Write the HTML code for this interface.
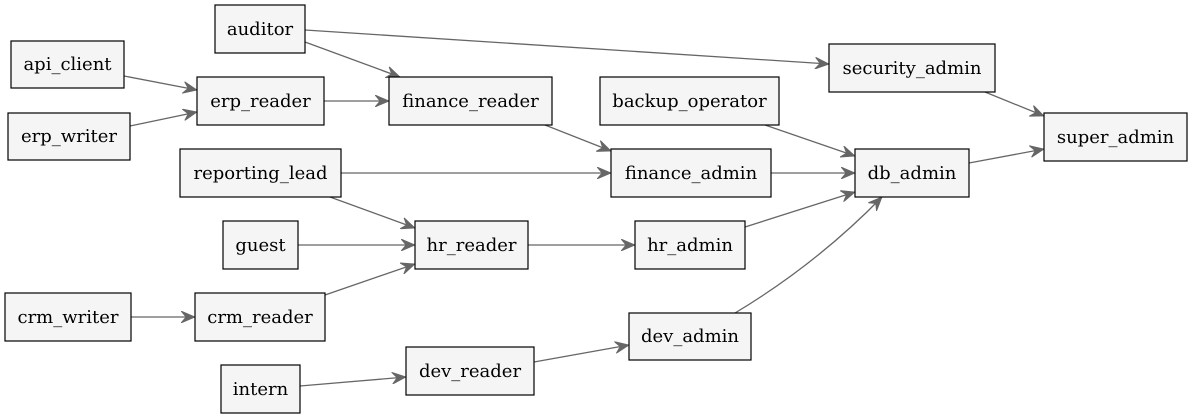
<!DOCTYPE html>
<html><head><meta charset="utf-8"><style>
html,body{margin:0;padding:0;background:#fff;}
svg{display:block;}
text{font-family:"DejaVu Serif","Liberation Serif",serif;font-size:18px;fill:#000;}
rect{fill:#f5f5f5;stroke:#000;stroke-width:1.2;}
.e{stroke:#666;stroke-width:1.3;fill:none;marker-end:url(#v);}
</style></head><body>
<svg width="1193" height="419" viewBox="0 0 1193 419">
<defs>
<marker id="v" markerUnits="userSpaceOnUse" markerWidth="16" markerHeight="12" refX="14" refY="6" orient="auto">
<path d="M0,0 L14,6 L0,12 L5,6 z" fill="#666" stroke="#666" stroke-width="0.8"/>
</marker>
</defs>
<path class="e" d="M305,42 L400,77"/>
<path class="e" d="M305,30 L829,64"/>
<path class="e" d="M124,76 L197,90"/>
<path class="e" d="M130,126 L197,112"/>
<path class="e" d="M324,101 L389,101"/>
<path class="e" d="M545,125 L611,151"/>
<path class="e" d="M765,125 L855,156"/>
<path class="e" d="M985,92 L1044,116"/>
<path class="e" d="M771,173 L855,173"/>
<path class="e" d="M341,173 L611,173"/>
<path class="e" d="M330,197 L415,228"/>
<path class="e" d="M298,245 L415,245"/>
<path class="e" d="M325,295 L415,264"/>
<path class="e" d="M528,245 L635,245"/>
<path class="e" d="M745,227 L855,192"/>
<path class="e" d="M969,163 L1044,149"/>
<path class="e" d="M131,317 L195,317"/>
<path class="e" d="M735,313 C790,280 840,240 882,197"/>
<path class="e" d="M300,386 L406,377"/>
<path class="e" d="M534,362 L629,345"/>
<g text-anchor="middle">
<rect x="215" y="5" width="90" height="48"/><text x="260" y="35">auditor</text>
<rect x="11" y="41" width="113" height="47"/><text x="67.5" y="70">api_client</text>
<rect x="8" y="113" width="122" height="47"/><text x="69" y="142">erp_writer</text>
<rect x="197" y="77" width="127" height="48"/><text x="260.5" y="107">erp_reader</text>
<rect x="389" y="77" width="163" height="48"/><text x="470.5" y="107">finance_reader</text>
<rect x="600" y="77" width="179" height="48"/><text x="689.5" y="107">backup_operator</text>
<rect x="829" y="44" width="166" height="48"/><text x="912" y="74">security_admin</text>
<rect x="1044" y="113" width="143" height="48"/><text x="1115.5" y="143">super_admin</text>
<rect x="180" y="149" width="161" height="48"/><text x="260.5" y="179">reporting_lead</text>
<rect x="611" y="149" width="160" height="48"/><text x="691" y="179">finance_admin</text>
<rect x="855" y="149" width="114" height="48"/><text x="912" y="179">db_admin</text>
<rect x="223" y="221" width="75" height="48"/><text x="260.5" y="251">guest</text>
<rect x="415" y="221" width="113" height="48"/><text x="471.5" y="251">hr_reader</text>
<rect x="635" y="221" width="110" height="48"/><text x="690" y="251">hr_admin</text>
<rect x="5" y="293" width="126" height="48"/><text x="68" y="323">crm_writer</text>
<rect x="195" y="293" width="130" height="48"/><text x="260" y="323">crm_reader</text>
<rect x="629" y="313" width="122" height="47"/><text x="690" y="342">dev_admin</text>
<rect x="221" y="365" width="79" height="48"/><text x="260.5" y="395">intern</text>
<rect x="406" y="347" width="128" height="48"/><text x="470" y="377">dev_reader</text>
</g>
</svg>
</body></html>
